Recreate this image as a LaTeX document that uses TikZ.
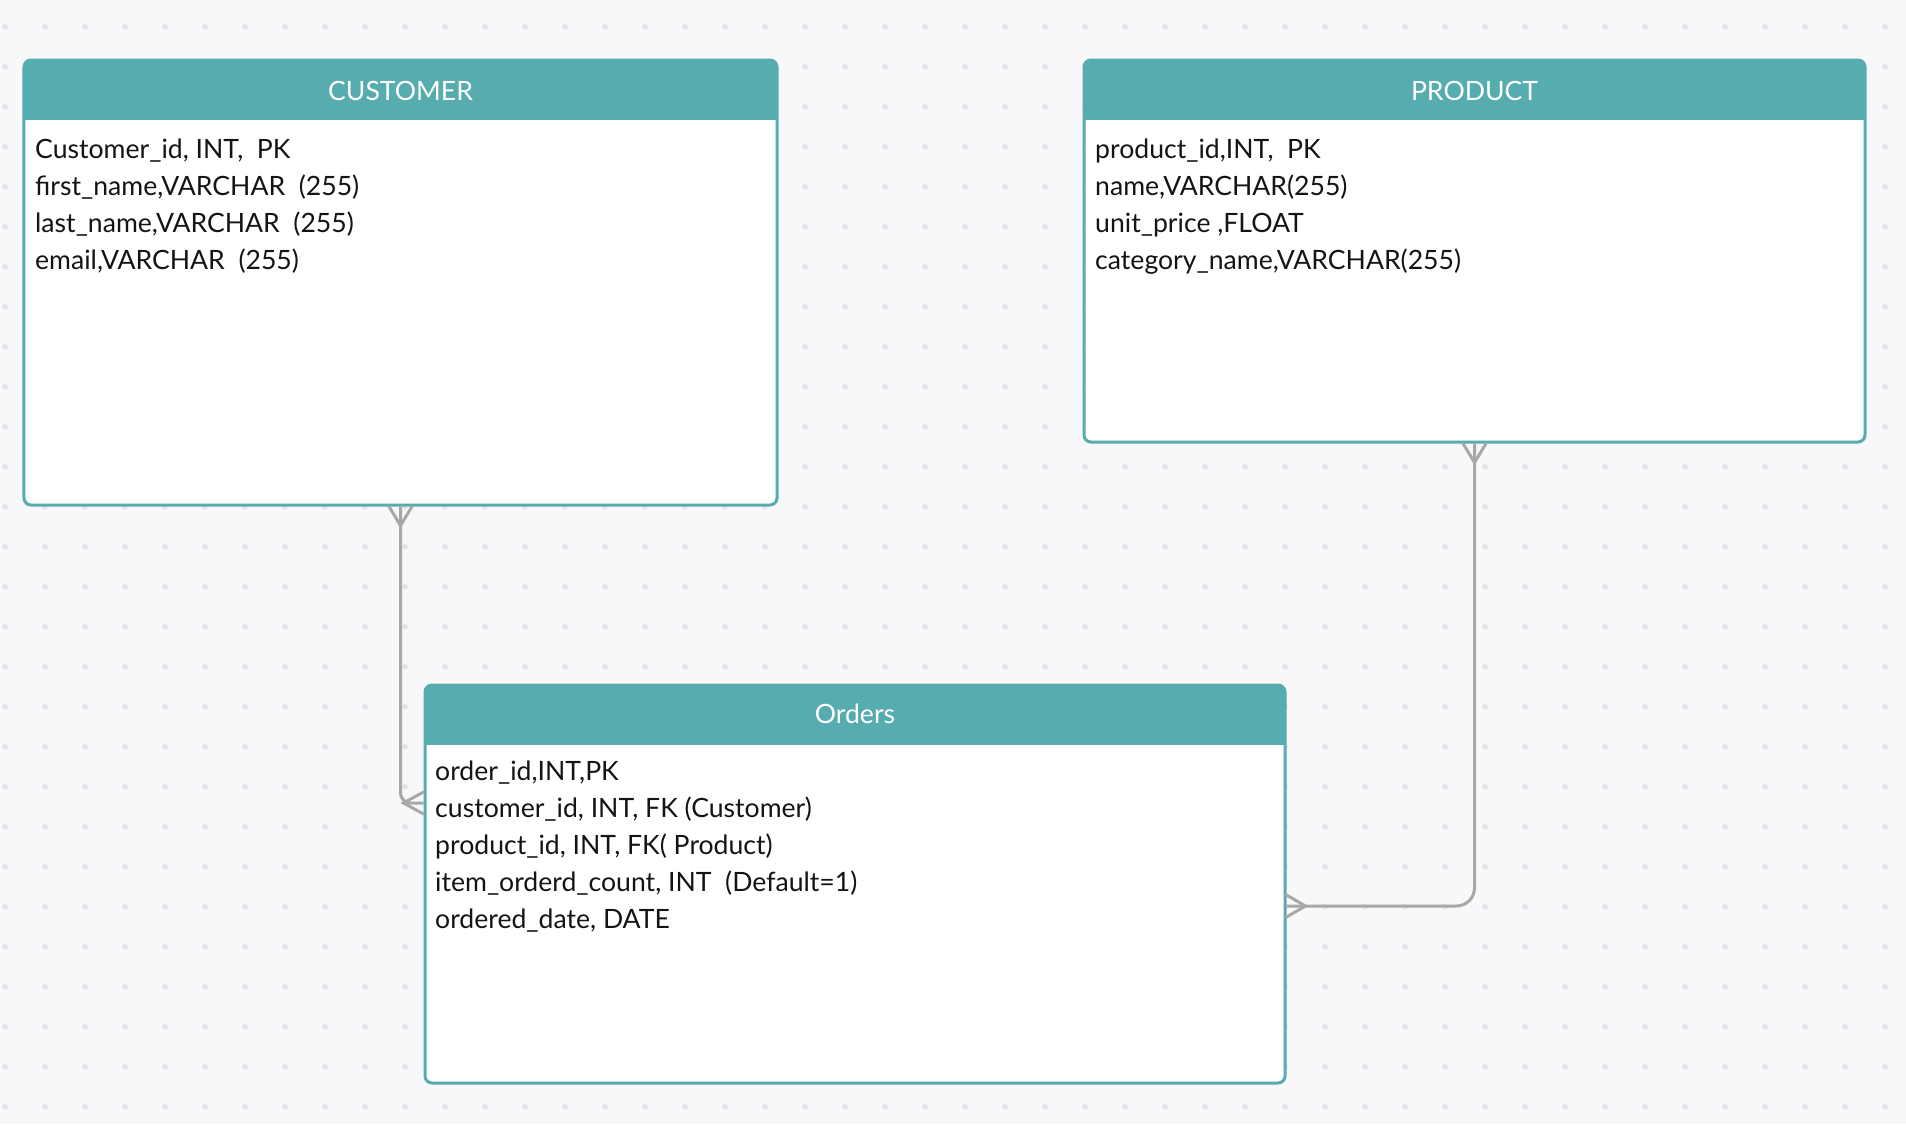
\documentclass[tikz,border=0pt]{standalone}
\usepackage{fontspec}
\setmainfont{Lato}
\usetikzlibrary{calc}
\definecolor{teal0}{RGB}{86,172,175}
\definecolor{bgc}{RGB}{248,248,250}
\definecolor{dotc}{RGB}{228,228,232}
\definecolor{connc}{RGB}{168,168,168}
\definecolor{ink}{RGB}{20,20,20}
\begin{document}
\begin{tikzpicture}[x=1bp,y=-1bp,
  tbl/.style={draw=teal0, line width=3bp, fill=white, rounded corners=7bp, inner sep=0pt, rectangle},
  hdr/.style={font=\fontsize{26.7}{30}\selectfont, text=white, anchor=base, inner sep=0pt},
  field/.style={font=\fontsize{26.7}{30}\selectfont, text=ink, anchor=base west, inner sep=0pt},
  link/.style={draw=connc, line width=3bp},
  prong/.style={draw=connc, line width=3bp, line cap=round},
]
\fill[bgc] (0,0) rectangle (1906,1124);
\useasboundingbox (0,0) rectangle (1906,1124);
\foreach \i in {0,...,47} \foreach \j in {0,...,27} \fill[dotc] ({5+40*\i},{26.7+40*\j}) circle (3bp);

% CUSTOMER
\node[tbl, minimum width=753bp, minimum height=445bp] (customer) at (400.5,282.5) {};
\begin{scope}
  \clip[rounded corners=7bp] (24,60) rectangle (777,505);
  \fill[teal0] (20,56) rectangle (781,120);
\end{scope}
\node[hdr] (customer-title) at (400.5,100) {CUSTOMER};
\foreach \t [count=\i] in {{Customer\_id, INT,~ PK},{first\_name,VARCHAR~ (255)},{last\_name,VARCHAR~ (255)},{email,VARCHAR~ (255)}}
  \node[field] (customer-\i) at (35,{158+37*(\i-1)}) {\t};

% PRODUCT
\node[tbl, minimum width=781bp, minimum height=382bp] (product) at (1474.5,251) {};
\begin{scope}
  \clip[rounded corners=7bp] (1084,60) rectangle (1865,442);
  \fill[teal0] (1080,56) rectangle (1869,120);
\end{scope}
\node[hdr] (product-title) at (1474.5,100) {PRODUCT};
\foreach \t [count=\i] in {{product\_id,INT,~ PK},{name,VARCHAR(255)},{unit\_price ,FLOAT},{category\_name,VARCHAR(255)}}
  \node[field] (product-\i) at (1095,{158+37*(\i-1)}) {\t};

% ORDERS
\node[tbl, minimum width=860bp, minimum height=398bp] (orders) at (855,884) {};
\begin{scope}
  \clip[rounded corners=7bp] (425,685) rectangle (1285,1083);
  \fill[teal0] (421,681) rectangle (1289,745);
\end{scope}
\node[hdr] (orders-title) at (855,723) {Orders};
\foreach \t [count=\i] in {{order\_id,INT,PK},{customer\_id, INT, FK (Customer)},{product\_id, INT, FK( Product)},{item\_orderd\_count, INT~ (Default=1)},{ordered\_date, DATE}}
  \node[field] (orders-\i) at (435,{780+37*(\i-1)}) {\t};

% connectors
\coordinate (ocin) at ($(orders.west)+(0,-81)$);
\coordinate (opin) at ($(orders.east)+(0,22)$);
\draw[link, rounded corners=10bp] (customer.south) |- (ocin);
\draw[link, rounded corners=18bp] (product.south) |- (opin);
% crow's feet
\draw[prong] ($(customer.south)+(-11.5,0)$) -- ($(customer.south)+(0,19)$) -- ($(customer.south)+(11.5,0)$);
\draw[prong] ($(product.south)+(-11.5,0)$) -- ($(product.south)+(0,19)$) -- ($(product.south)+(11.5,0)$);
\draw[prong] ($(ocin)+(0,-11)$) -- ($(ocin)+(-20,0)$) -- ($(ocin)+(0,11)$);
\draw[prong] ($(opin)+(0,-11)$) -- ($(opin)+(19,0)$) -- ($(opin)+(0,11)$);
\end{tikzpicture}
\end{document}
